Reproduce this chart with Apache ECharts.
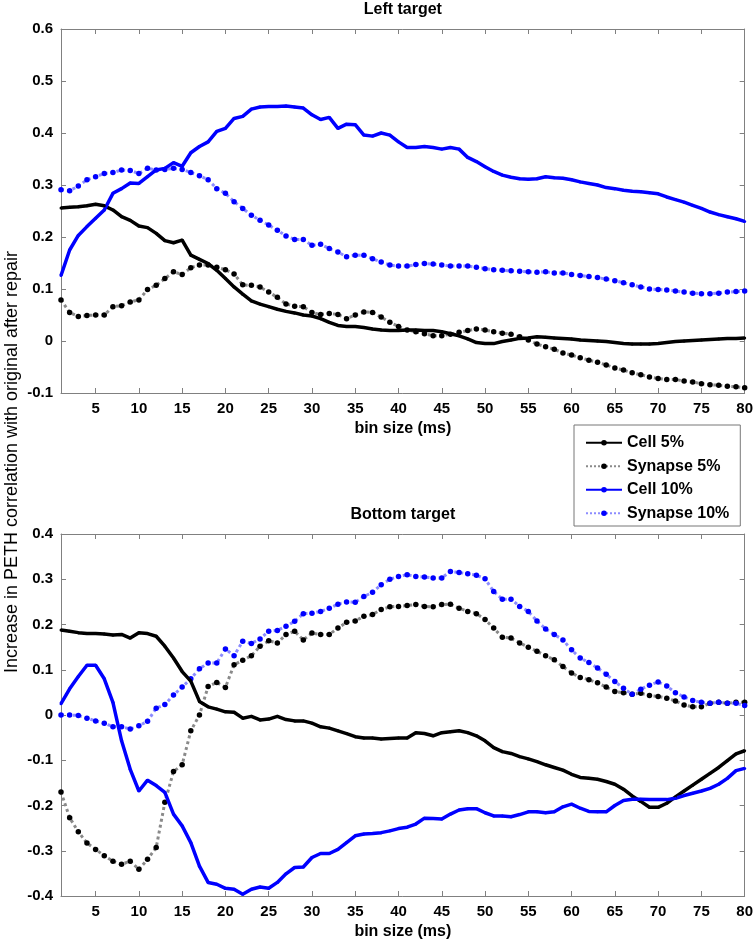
<!DOCTYPE html>
<html>
<head>
<meta charset="utf-8">
<script src="https://cdn.jsdelivr.net/npm/echarts@6/dist/echarts.min.js"></script>
<style>
  html, body { margin: 0; padding: 0; background: #fff; }
  #chart { width: 756px; height: 946px; }
</style>
</head>
<body>
<div id="chart"></div>
<script>
// bin size (ms)
const binSize = [1, 2, 3, 4, 5, 6, 7, 8, 9, 10, 11, 12, 13, 14, 15, 16, 17, 18, 19, 20,
  21, 22, 23, 24, 25, 26, 27, 28, 29, 30, 31, 32, 33, 34, 35, 36, 37, 38, 39, 40,
  41, 42, 43, 44, 45, 46, 47, 48, 49, 50, 51, 52, 53, 54, 55, 56, 57, 58, 59, 60,
  61, 62, 63, 64, 65, 66, 67, 68, 69, 70, 71, 72, 73, 74, 75, 76, 77, 78, 79, 80]
const xTicks = [5, 10, 15, 20, 25, 30, 35, 40, 45, 50, 55, 60, 65, 70, 75, 80]

// Left target
const leftCell5 = [0.256, 0.257, 0.258, 0.26, 0.263, 0.26, 0.252, 0.239, 0.232, 0.221, 0.218, 0.207, 0.193, 0.189, 0.194, 0.165, 0.157, 0.149, 0.136, 0.12,
  0.104, 0.09, 0.077, 0.071, 0.066, 0.061, 0.057, 0.054, 0.05, 0.048, 0.043, 0.036, 0.03, 0.028, 0.028, 0.026, 0.023, 0.021, 0.02, 0.02,
  0.021, 0.021, 0.02, 0.02, 0.018, 0.014, 0.01, 0.004, -0.003, -0.005, -0.005, -0.001, 0.002, 0.005, 0.006, 0.008, 0.007, 0.006, 0.005, 0.004,
  0.002, 0.001, 0, -0.001, -0.003, -0.005, -0.006, -0.006, -0.006, -0.005, -0.003, -0.001, 0, 0.001, 0.002, 0.003, 0.004, 0.005, 0.005, 0.006]
const leftSyn5 = [0.079, 0.055, 0.047, 0.049, 0.05, 0.05, 0.066, 0.068, 0.075, 0.079, 0.099, 0.107, 0.12, 0.133, 0.128, 0.141, 0.146, 0.146, 0.142, 0.137,
  0.129, 0.108, 0.107, 0.104, 0.094, 0.084, 0.071, 0.067, 0.066, 0.055, 0.051, 0.053, 0.051, 0.043, 0.05, 0.056, 0.055, 0.046, 0.036, 0.028,
  0.021, 0.018, 0.014, 0.01, 0.01, 0.013, 0.017, 0.02, 0.023, 0.021, 0.018, 0.015, 0.013, 0.008, 0.002, -0.006, -0.011, -0.016, -0.023, -0.027,
  -0.032, -0.037, -0.041, -0.046, -0.052, -0.056, -0.061, -0.065, -0.069, -0.072, -0.074, -0.074, -0.077, -0.079, -0.082, -0.084, -0.085, -0.087, -0.088, -0.09]
const leftCell10 = [0.126, 0.175, 0.203, 0.22, 0.236, 0.252, 0.284, 0.293, 0.304, 0.303, 0.316, 0.329, 0.332, 0.343, 0.336, 0.362, 0.374, 0.383, 0.403, 0.409,
  0.428, 0.432, 0.446, 0.45, 0.451, 0.451, 0.452, 0.45, 0.448, 0.435, 0.426, 0.43, 0.409, 0.417, 0.416, 0.396, 0.394, 0.4, 0.396, 0.383,
  0.372, 0.372, 0.374, 0.372, 0.369, 0.372, 0.369, 0.353, 0.345, 0.335, 0.326, 0.319, 0.315, 0.312, 0.311, 0.312, 0.316, 0.314, 0.313, 0.31,
  0.306, 0.303, 0.3, 0.295, 0.293, 0.29, 0.288, 0.287, 0.285, 0.283, 0.277, 0.272, 0.267, 0.261, 0.255, 0.248, 0.243, 0.239, 0.235, 0.23]
const leftSyn10 = [0.291, 0.289, 0.298, 0.31, 0.316, 0.322, 0.324, 0.329, 0.328, 0.322, 0.332, 0.329, 0.33, 0.332, 0.33, 0.324, 0.318, 0.31, 0.293, 0.284,
  0.268, 0.255, 0.242, 0.232, 0.223, 0.213, 0.202, 0.195, 0.195, 0.184, 0.186, 0.178, 0.171, 0.162, 0.165, 0.165, 0.158, 0.152, 0.146, 0.144,
  0.144, 0.147, 0.149, 0.148, 0.146, 0.144, 0.144, 0.144, 0.142, 0.139, 0.137, 0.136, 0.135, 0.134, 0.133, 0.132, 0.133, 0.131, 0.131, 0.128,
  0.126, 0.124, 0.122, 0.119, 0.116, 0.112, 0.108, 0.104, 0.1, 0.099, 0.098, 0.096, 0.094, 0.092, 0.091, 0.091, 0.092, 0.094, 0.095, 0.096]

// Bottom target
const bottomCell5 = [0.188, 0.185, 0.182, 0.18, 0.18, 0.179, 0.177, 0.178, 0.17, 0.182, 0.18, 0.174, 0.152, 0.126, 0.096, 0.075, 0.03, 0.018, 0.013, 0.007,
  0.006, -0.007, -0.003, -0.011, -0.009, -0.003, -0.01, -0.013, -0.013, -0.018, -0.026, -0.029, -0.035, -0.041, -0.048, -0.051, -0.051, -0.053, -0.052, -0.051,
  -0.051, -0.039, -0.041, -0.046, -0.039, -0.037, -0.035, -0.039, -0.046, -0.057, -0.072, -0.081, -0.085, -0.092, -0.097, -0.103, -0.11, -0.116, -0.122, -0.131,
  -0.138, -0.14, -0.142, -0.147, -0.153, -0.164, -0.179, -0.191, -0.204, -0.204, -0.195, -0.181, -0.168, -0.155, -0.142, -0.129, -0.116, -0.101, -0.086, -0.079]
const bottomSyn5 = [-0.17, -0.227, -0.258, -0.283, -0.297, -0.311, -0.323, -0.33, -0.323, -0.341, -0.319, -0.293, -0.193, -0.125, -0.11, -0.035, 0, 0.063, 0.072, 0.061,
  0.111, 0.121, 0.131, 0.152, 0.164, 0.159, 0.178, 0.185, 0.166, 0.181, 0.178, 0.178, 0.192, 0.205, 0.208, 0.218, 0.222, 0.233, 0.239, 0.24,
  0.242, 0.244, 0.24, 0.239, 0.244, 0.245, 0.236, 0.229, 0.224, 0.211, 0.192, 0.172, 0.17, 0.159, 0.15, 0.141, 0.131, 0.122, 0.107, 0.093,
  0.083, 0.078, 0.071, 0.062, 0.052, 0.049, 0.046, 0.048, 0.043, 0.041, 0.037, 0.031, 0.022, 0.018, 0.018, 0.026, 0.028, 0.026, 0.028, 0.028]
const bottomCell10 = [0.025, 0.058, 0.085, 0.11, 0.11, 0.08, 0.028, -0.057, -0.12, -0.168, -0.144, -0.156, -0.171, -0.219, -0.245, -0.282, -0.334, -0.37, -0.374, -0.383,
  -0.385, -0.396, -0.385, -0.38, -0.383, -0.37, -0.351, -0.337, -0.336, -0.315, -0.306, -0.306, -0.297, -0.282, -0.267, -0.263, -0.262, -0.26, -0.256, -0.251,
  -0.248, -0.241, -0.228, -0.229, -0.23, -0.219, -0.21, -0.207, -0.207, -0.216, -0.223, -0.223, -0.225, -0.22, -0.214, -0.214, -0.216, -0.214, -0.203, -0.197,
  -0.206, -0.213, -0.214, -0.214, -0.2, -0.189, -0.186, -0.186, -0.187, -0.187, -0.187, -0.184, -0.178, -0.173, -0.168, -0.162, -0.153, -0.14, -0.123, -0.118]
const bottomSyn10 = [0, 0, -0.001, -0.007, -0.013, -0.018, -0.026, -0.026, -0.031, -0.024, -0.014, 0.015, 0.023, 0.044, 0.062, 0.08, 0.102, 0.115, 0.115, 0.146,
  0.131, 0.163, 0.158, 0.168, 0.185, 0.187, 0.196, 0.207, 0.224, 0.225, 0.229, 0.236, 0.245, 0.25, 0.249, 0.262, 0.271, 0.288, 0.3, 0.306,
  0.31, 0.306, 0.305, 0.303, 0.303, 0.317, 0.315, 0.312, 0.309, 0.301, 0.273, 0.256, 0.256, 0.24, 0.229, 0.208, 0.19, 0.178, 0.166, 0.144,
  0.126, 0.116, 0.104, 0.09, 0.074, 0.059, 0.046, 0.057, 0.066, 0.073, 0.064, 0.049, 0.04, 0.032, 0.028, 0.026, 0.028, 0.026, 0.026, 0.021]

const names = ['Cell 5%', 'Synapse 5%', 'Cell 10%', 'Synapse 10%']
const fontFamily = 'Liberation Sans, Arial, Helvetica, sans-serif'
const boxColor = '#808080'

// one style per legend entry
const styles = [
  { line: { color: '#000', width: 3.5, type: 'solid' }, item: '#000', size: 3 },
  { line: { color: '#8a8a8a', width: 3, type: 'dotted' }, item: '#000', size: 5.5 },
  { line: { color: '#0000ff', width: 3.5, type: 'solid' }, item: '#0000ff', size: 3 },
  { line: { color: '#8c8cff', width: 3, type: 'dotted' }, item: '#0000ff', size: 5.5 }
]

function pairs (values) {
  return binSize.map((b, i) => [b, values[i]])
}

function makeSeries (valueSets, axisIndex) {
  return valueSets.map((values, k) => ({
    name: names[k],
    type: 'line',
    xAxisIndex: axisIndex * 2,
    yAxisIndex: axisIndex * 2,
    data: pairs(values),
    symbol: 'circle',
    symbolSize: styles[k].size,
    lineStyle: styles[k].line,
    itemStyle: { color: styles[k].item },
    emphasis: { disabled: true },
    z: k % 2 === 0 ? 3 : 2
  }))
}

function bottomX (gridIndex) {
  return {
    type: 'value',
    gridIndex: gridIndex,
    position: 'bottom',
    min: 1,
    max: 80,
    name: 'bin size (ms)',
    nameLocation: 'middle',
    nameGap: 28,
    nameTextStyle: { fontFamily: fontFamily, fontSize: 16, fontWeight: 'bold', color: '#000' },
    axisLine: { show: true, onZero: false, lineStyle: { color: boxColor, width: 1 } },
    axisTick: { show: true, inside: true, length: 5, customValues: xTicks, lineStyle: { color: boxColor } },
    axisLabel: { show: true, margin: 8, customValues: xTicks, fontFamily: fontFamily, fontSize: 15, fontWeight: 'bold', color: '#000' },
    splitLine: { show: false }
  }
}

function topX (gridIndex, title) {
  return {
    type: 'value',
    gridIndex: gridIndex,
    position: 'top',
    min: 1,
    max: 80,
    name: title,
    nameLocation: 'middle',
    nameGap: 11,
    nameTextStyle: { fontFamily: fontFamily, fontSize: 16, fontWeight: 'bold', color: '#000' },
    axisLine: { show: true, onZero: false, lineStyle: { color: boxColor, width: 1 } },
    axisTick: { show: true, inside: true, length: 5, customValues: xTicks, lineStyle: { color: boxColor } },
    axisLabel: { show: false },
    splitLine: { show: false }
  }
}

function yAxis (gridIndex, min, max, side) {
  return {
    type: 'value',
    gridIndex: gridIndex,
    position: side,
    min: min,
    max: max,
    interval: 0.1,
    axisLine: { show: true, onZero: false, lineStyle: { color: boxColor, width: 1 } },
    axisTick: { show: true, inside: true, length: 5, lineStyle: { color: boxColor } },
    axisLabel: {
      show: side === 'left',
      margin: 8,
      fontFamily: fontFamily,
      fontSize: 15,
      fontWeight: 'bold',
      color: '#000',
      formatter: v => (Math.abs(v) < 1e-9 ? '0' : v.toFixed(1))
    },
    splitLine: { show: false }
  }
}

const chart = echarts.init(document.getElementById('chart'), null, { renderer: 'canvas' })
chart.setOption({
  animation: false,
  backgroundColor: '#fff',
  grid: [
    { left: 61, top: 29, width: 684, height: 364 },
    { left: 61, top: 534, width: 684, height: 362 }
  ],
  xAxis: [bottomX(0), topX(0, 'Left target'), bottomX(1), topX(1, 'Bottom target')],
  yAxis: [yAxis(0, -0.1, 0.6, 'left'), yAxis(0, -0.1, 0.6, 'right'), yAxis(1, -0.4, 0.4, 'left'), yAxis(1, -0.4, 0.4, 'right')],
  legend: {
    data: names,
    orient: 'vertical',
    left: 574,
    top: 425,
    padding: [9, 11, 4, 11],
    itemWidth: 36,
    itemHeight: 7,
    itemGap: 6,
    borderColor: '#777',
    borderWidth: 1,
    backgroundColor: '#fff',
    textStyle: { fontFamily: fontFamily, fontSize: 16, lineHeight: 17.5, fontWeight: 'bold', color: '#000' }
  },
  graphic: [{
    type: 'text',
    x: 12,
    y: 462,
    rotation: Math.PI / 2,
    style: {
      text: 'Increase in PETH correlation with original after repair',
      x: 0,
      y: 0,
      align: 'center',
      verticalAlign: 'middle',
      font: '18px Liberation Sans, Arial, sans-serif',
      fill: '#000'
    }
  }],
  series: makeSeries([leftCell5, leftSyn5, leftCell10, leftSyn10], 0)
    .concat(makeSeries([bottomCell5, bottomSyn5, bottomCell10, bottomSyn10], 1))
})
</script>
</body>
</html>
